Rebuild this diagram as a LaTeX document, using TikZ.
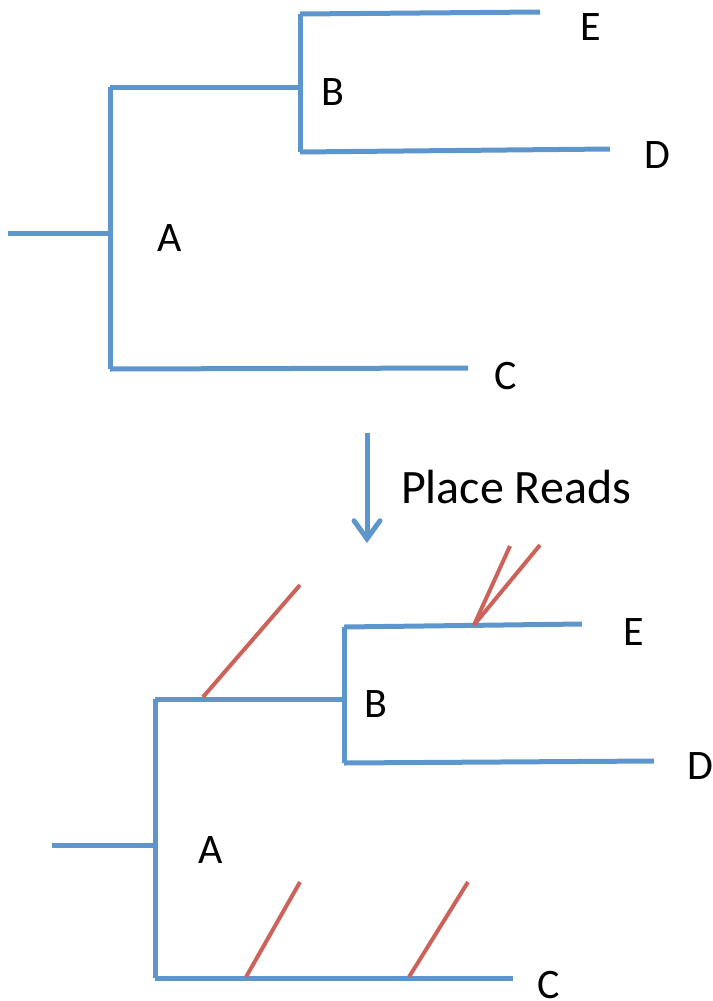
\documentclass[tikz,border=0pt]{standalone}
\usepackage{fontspec}
\setmainfont{Carlito}
\usetikzlibrary{arrows.meta}
\definecolor{treeblue}{RGB}{93,150,205}
\definecolor{readred}{RGB}{205,98,90}
\tikzset{
  branch/.style={draw=treeblue, line width=5pt, line cap=butt},
  readline/.style={draw=readred, line width=4pt},
  lbl/.style={inner sep=0pt, font=\fontsize{42}{42}\selectfont},
  caption/.style={inner sep=0pt, font=\fontsize{48}{48}\selectfont}
}
\begin{document}
\begin{tikzpicture}[x=1pt, y=-1pt]
\useasboundingbox (0,0) rectangle (712,1001);
% ---------- top tree ----------
\coordinate (tr) at (8,233);
\coordinate (ta) at (110,233);
\coordinate (tat) at (110,87);
\coordinate (tab) at (110,369);
\coordinate (tb) at (300,87);
\coordinate (tbt) at (300,14);
\coordinate (tbb) at (300,152);
\coordinate (te) at (540,12);
\coordinate (td) at (610,149);
\coordinate (tc) at (468,368);
\draw[branch] (tr) -- (ta);
\draw[branch] (tat) -- (tab);
\draw[branch] (tat) -- (tb);
\draw[branch] (tbt) -- (tbb);
\draw[branch] (tbt) -- (te);
\draw[branch] (tbb) -- (td);
\draw[branch] (tab) -- (tc);
\node[lbl] (tE) at (591,27) {E};
\node[lbl] (tB) at (333,92) {B};
\node[lbl] (tD) at (657,155) {D};
\node[lbl] (tA) at (170,238) {A};
\node[lbl] (tC) at (506,376) {C};
% ---------- arrow ----------
\coordinate (arS) at (367,433);
\coordinate (arE) at (367,543);
\draw[treeblue, line width=5pt, -{Straight Barb[length=18pt,width=26pt,line cap=round]}] (arS) -- (arE);
\node[caption] (pr) at (516,487) {Place Reads};
% ---------- bottom tree ----------
\coordinate (br) at (52,845);
\coordinate (ba) at (155,845);
\coordinate (bat) at (155,699);
\coordinate (bab) at (155,978);
\coordinate (bb) at (344,699);
\coordinate (bbt) at (344,627);
\coordinate (bbb) at (344,763);
\coordinate (be) at (582,624);
\coordinate (bd) at (654,761);
\coordinate (bc) at (513,978);
\draw[branch] (br) -- (ba);
\draw[branch] (bat) -- (bab);
\draw[branch] (bat) -- (bb);
\draw[branch] (bbt) -- (bbb);
\draw[branch] (bbt) -- (be);
\draw[branch] (bbb) -- (bd);
\draw[branch] (bab) -- (bc);
\node[lbl] (bE) at (634,632) {E};
\node[lbl] (bB) at (376,704) {B};
\node[lbl] (bD) at (700,766) {D};
\node[lbl] (bA) at (211,850) {A};
\node[lbl] (bC) at (549,985) {C};
% ---------- reads ----------
\coordinate (r1a) at (203,697);
\coordinate (r1b) at (300,585);
\coordinate (r2a) at (474,625);
\coordinate (r2b) at (510,546);
\coordinate (r3b) at (540,545);
\coordinate (r4a) at (246,977);
\coordinate (r4b) at (300,882);
\coordinate (r5a) at (409,977);
\coordinate (r5b) at (468,882);
\draw[readline] (r1a) -- (r1b);
\draw[readline] (r2a) -- (r2b);
\draw[readline] (r2a) -- (r3b);
\draw[readline] (r4a) -- (r4b);
\draw[readline] (r5a) -- (r5b);
\end{tikzpicture}
\end{document}
